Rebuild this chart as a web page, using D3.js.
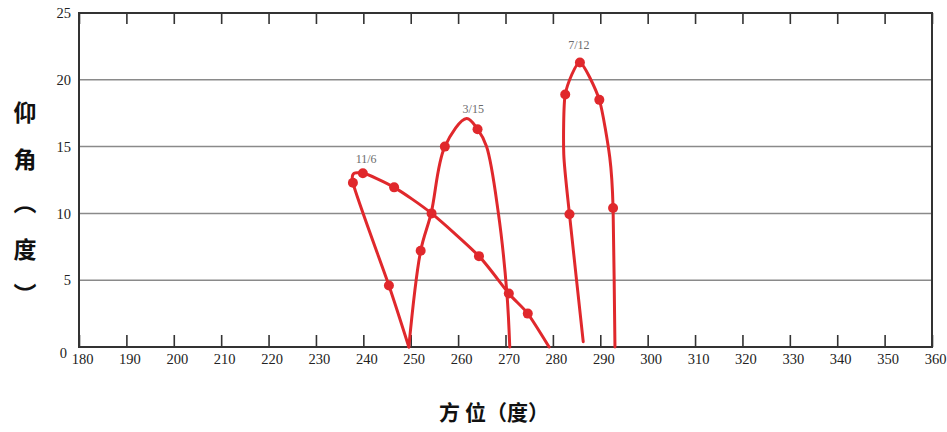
<!DOCTYPE html>
<html>
<head>
<meta charset="utf-8">
<script src="https://cdn.jsdelivr.net/npm/d3@7"></script>
<style>
  html, body { margin: 0; padding: 0; background: #fff; }
  svg { display: block; }
</style>
</head>
<body>
<svg id="chart" width="947" height="432"></svg>
<script>
// ---- data ----
const xTicks = [180,190,200,210,220,230,240,250,260,270,280,290,300,310,320,330,340,350,360];
const yTicks = [0,5,10,15,20,25];

const series = ["11/6", "3/15", "7/12"];

// 11/6
const az_1106 = [249.6, 245.4, 237.8, 239.9, 246.5, 254.4, 264.4, 270.7, 274.7, 279.2];
const el_1106 = [0.0,   4.6,   12.3,  13.0,  11.95, 10.0,  6.8,   4.0,   2.5,   0.0];
const mk_1106 = [false, true,  true,  true,  true,  true,  true,  true,  true,  false];

// 3/15
const az_0315 = [249.6, 252.1, 254.3, 257.2, 261.8, 264.1, 266.0, 268.5, 270.3, 270.9];
const el_0315 = [0.0,   7.2,   10.0,  15.0,  17.1,  16.3,  15.0,  10.0,  4.0,   0.0];
const mk_0315 = [false, true,  false, true,  false, true,  false, false, false, false];

// 7/12
const az_0712 = [286.4, 283.5, 282.3, 282.6, 285.7, 289.8, 292.0, 292.7, 293.1];
const el_0712 = [0.4,   9.93,  14.4,  18.9,  21.3,  18.5,  14.2,  10.4,  0.0];
const mk_0712 = [false, true,  false, true,  true,  true,  false, true,  false];

// label position (data coords) for each date
const labelAz = [240.6, 263.2, 285.5];
const labelEl = [13.8, 17.5, 22.3];

// ---- layout ----
const W = 947, H = 432;
const m = { left: 79, top: 13, right: 15, bottom: 85 };
const iw = W - m.left - m.right, ih = H - m.top - m.bottom;

const svg = d3.select("#chart");
const g = svg.append("g").attr("transform", `translate(${m.left},${m.top})`);

const x = d3.scaleLinear().domain([180, 360]).range([0, iw]);
const y = d3.scaleLinear().domain([0, 25]).range([ih, 0]);

const serif = "'Liberation Serif', 'DejaVu Serif', serif";
const cjk = "'Noto Sans CJK SC', 'Noto Sans CJK JP', sans-serif";

// gridlines
g.append("g").selectAll("line")
  .data(yTicks.filter(v => v > 0 && v < 25))
  .join("line")
  .attr("x1", 0).attr("x2", iw)
  .attr("y1", d => y(d)).attr("y2", d => y(d))
  .attr("stroke", "#8a8a8a").attr("stroke-width", 1.5);

// bottom axis
const xb = g.append("g").attr("transform", `translate(0,${ih})`)
  .call(d3.axisBottom(x).tickValues(xTicks).tickSize(-12).tickPadding(7).tickSizeOuter(0));
xb.select(".domain").remove();
xb.selectAll(".tick line").attr("stroke", "#333").attr("stroke-width", 1.6);
xb.selectAll(".tick text").attr("font-family", serif).attr("font-size", 14.5)
  .attr("fill", "#222").attr("dx", 3);

// top axis (ticks only)
const xt = g.append("g")
  .call(d3.axisTop(x).tickValues(xTicks).tickSize(-11).tickFormat("").tickSizeOuter(0));
xt.select(".domain").remove();
xt.selectAll(".tick line").attr("stroke", "#333").attr("stroke-width", 1.6);

// left axis labels
const yl = g.append("g")
  .call(d3.axisLeft(y).tickValues(yTicks).tickSize(0).tickPadding(8));
yl.select(".domain").remove();
yl.selectAll(".tick text").attr("font-family", serif).attr("font-size", 14.5)
  .attr("fill", "#222")
  .attr("dy", d => d === 0 ? "0.7em" : "0.32em")
  .attr("dx", d => d === 0 ? -4 : 0);

// frame
g.append("rect").attr("x", 0).attr("y", 0).attr("width", iw).attr("height", ih)
  .attr("fill", "none").attr("stroke", "#333").attr("stroke-width", 2);

// curves
const red = "#e0282c";
const curves = [d3.curveCardinal.tension(0.3), d3.curveCatmullRom.alpha(0.5), d3.curveCardinal.tension(0.35)];

const sets = [
  [az_1106, el_1106, mk_1106],
  [az_0315, el_0315, mk_0315],
  [az_0712, el_0712, mk_0712]
].map(([a, e, k]) => a.map((v, i) => ({ az: v, el: e[i], mk: k[i] })));

sets.forEach((pts, si) => {
  const line = d3.line().x(d => x(d.az)).y(d => y(d.el)).curve(curves[si]);
  g.append("path").datum(pts).attr("d", line)
    .attr("fill", "none").attr("stroke", red).attr("stroke-width", 3)
    .attr("stroke-linejoin", "round").attr("stroke-linecap", "round");
  g.append("g").selectAll("circle")
    .data(pts.filter(p => p.mk))
    .join("circle")
    .attr("cx", d => x(d.az)).attr("cy", d => y(d.el)).attr("r", 5)
    .attr("fill", red);
  g.append("text")
    .attr("x", x(labelAz[si])).attr("y", y(labelEl[si]))
    .attr("text-anchor", "middle")
    .attr("font-family", serif).attr("font-size", 12)
    .attr("fill", "#6b6b6b")
    .text(series[si]);
});

// y-axis title (vertical characters)
const yTitle = ["仰", "角", "︵", "度", "︶"];
const yTitlePos = [111, 158, 201, 248, 293];
svg.append("g").selectAll("text")
  .data(yTitle)
  .join("text")
  .attr("x", 25).attr("y", (d, i) => yTitlePos[i])
  .attr("text-anchor", "middle").attr("dominant-baseline", "central")
  .attr("font-family", cjk).attr("font-weight", "bold").attr("font-size", 23)
  .attr("fill", "#111")
  .text(d => d);

// x-axis title
svg.append("text")
  .attr("x", 494).attr("y", 411)
  .attr("text-anchor", "middle").attr("dominant-baseline", "central")
  .attr("font-family", cjk).attr("font-weight", "bold").attr("font-size", 21)
  .attr("fill", "#111")
  .text("方 位（度）");
</script>
</body>
</html>
